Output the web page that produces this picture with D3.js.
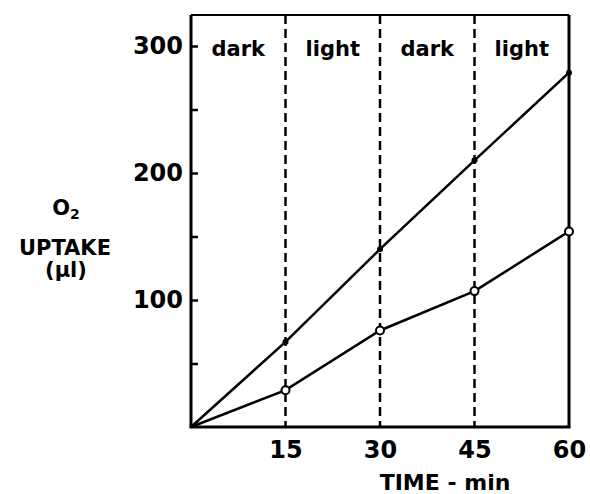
<!DOCTYPE html>
<html>
<head>
<meta charset="utf-8">
<script src="https://cdn.jsdelivr.net/npm/d3@7"></script>
<style>
  body { margin: 0; background: #fff; }
  svg text { font-family: "DejaVu Sans", sans-serif; font-weight: bold; fill: #000; }
</style>
</head>
<body>
<div id="chart"></div>
<script>
// time points (min) and O2 uptake (ul)
const times = [0, 15, 30, 45, 60];
const filledSeries = [0, 67, 140, 210, 279];
const openSeries = [0, 29, 76, 107, 154];
const periodBounds = [15, 30, 45];
const periodLabels = ["dark", "light", "dark", "light"];
const periodCenters = [7.5, 22.5, 37.5, 52.5];
const yTicks = [50, 100, 150, 200, 250, 300];
const xTicks = [15, 30, 45, 60];

const width = 590, height = 494;
const margin = { top: 15, right: 21, bottom: 67, left: 191 };

const svg = d3.select("#chart")
    .append("svg")
    .attr("width", width)
    .attr("height", height);

const x = d3.scaleLinear().domain([0, 60]).range([margin.left, width - margin.right]);
const y = d3.scaleLinear().domain([0, 300]).range([height - margin.bottom, 46]);
const yTop = margin.top;

// frame
svg.append("line")
    .attr("x1", x(0)).attr("x2", x(60))
    .attr("y1", yTop).attr("y2", yTop)
    .attr("stroke", "#000").attr("stroke-width", 2);
svg.append("line")
    .attr("x1", x(60)).attr("x2", x(60))
    .attr("y1", yTop).attr("y2", y(0))
    .attr("stroke", "#000").attr("stroke-width", 3);

// dashed period boundaries
svg.selectAll(".period")
    .data(periodBounds)
    .enter().append("line")
    .attr("class", "period")
    .attr("x1", d => x(d)).attr("x2", d => x(d))
    .attr("y1", yTop).attr("y2", y(0))
    .attr("stroke", "#000")
    .attr("stroke-width", 2.5)
    .attr("stroke-dasharray", "9,5");

svg.selectAll(".plabel")
    .data(periodLabels)
    .enter().append("text")
    .attr("class", "plabel")
    .attr("x", (d, i) => x(periodCenters[i]))
    .attr("y", 56)
    .attr("text-anchor", "middle")
    .style("font-size", "21px")
    .text(d => d);

// y axis with inside ticks
const yAxis = d3.axisLeft(y)
    .tickValues(yTicks)
    .tickSize(-7)
    .tickPadding(8)
    .tickFormat(d => d % 100 ? "" : d);

const gy = svg.append("g")
    .attr("transform", `translate(${x(0)},0)`)
    .call(yAxis);
gy.select(".domain").remove();
gy.selectAll(".tick line").attr("stroke", "#000").attr("stroke-width", 2.5);
gy.selectAll(".tick text").style("font-size", "24px").attr("font-family", null);

svg.append("line")
    .attr("x1", x(0)).attr("x2", x(0))
    .attr("y1", yTop).attr("y2", y(0))
    .attr("stroke", "#000").attr("stroke-width", 3);

// x axis
const xAxis = d3.axisBottom(x)
    .tickValues(xTicks)
    .tickSize(0)
    .tickPadding(14);

const gx = svg.append("g")
    .attr("transform", `translate(0,${y(0)})`)
    .call(xAxis);
gx.select(".domain").remove();
gx.selectAll(".tick text").style("font-size", "24px").attr("font-family", null);

svg.append("line")
    .attr("x1", x(0) - 1.5).attr("x2", x(60) + 1.5)
    .attr("y1", y(0)).attr("y2", y(0))
    .attr("stroke", "#000").attr("stroke-width", 3);

// axis titles
svg.append("text")
    .attr("x", 445).attr("y", 490)
    .attr("text-anchor", "middle")
    .style("font-size", "22px")
    .text("TIME - min");

const yTitle = svg.append("text")
    .attr("text-anchor", "middle")
    .style("font-size", "21px");
const o2 = yTitle.append("tspan").attr("x", 66).attr("y", 215);
o2.append("tspan").text("O");
o2.append("tspan").attr("dy", 4).style("font-size", "14px").text("2");
yTitle.append("tspan").attr("x", 65).attr("y", 255).text("UPTAKE");
yTitle.append("tspan").attr("x", 66).attr("y", 277).text("(\u00b5l)");

// series
const line = d3.line()
    .x((d, i) => x(times[i]))
    .y(d => y(d));

svg.append("path")
    .datum(filledSeries)
    .attr("d", line)
    .attr("fill", "none")
    .attr("stroke", "#000")
    .attr("stroke-width", 2.5);

svg.append("path")
    .datum(openSeries)
    .attr("d", line)
    .attr("fill", "none")
    .attr("stroke", "#000")
    .attr("stroke-width", 2.5);

svg.selectAll(".filled")
    .data(filledSeries.slice(1))
    .enter().append("circle")
    .attr("class", "filled")
    .attr("cx", (d, i) => x(times[i + 1]))
    .attr("cy", d => y(d))
    .attr("r", 3)
    .attr("fill", "#000");

svg.selectAll(".open")
    .data(openSeries.slice(1))
    .enter().append("circle")
    .attr("class", "open")
    .attr("cx", (d, i) => x(times[i + 1]))
    .attr("cy", d => y(d))
    .attr("r", 4)
    .attr("fill", "#fff")
    .attr("stroke", "#000")
    .attr("stroke-width", 2);
</script>
</body>
</html>
